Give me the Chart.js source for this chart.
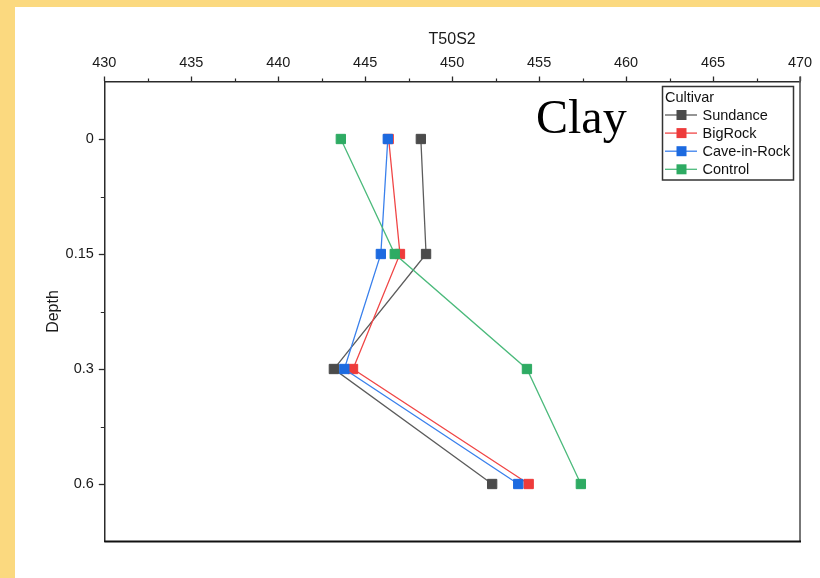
<!DOCTYPE html>
<html>
<head>
<meta charset="utf-8">
<title>T50S2 by depth – Clay</title>
<script src="https://cdn.jsdelivr.net/npm/chart.js@4.4.1/dist/chart.umd.min.js"></script>
<style>
  html, body { margin: 0; padding: 0; width: 820px; height: 578px; overflow: hidden; background: #fbd97f; }
  #panel { position: absolute; left: 15px; top: 7px; width: 805px; height: 571px; background: #ffffff; }
  #c { position: absolute; left: 0; top: 0; }
</style>
</head>
<body>
<div id="panel"></div>
<canvas id="c" width="820" height="578"></canvas>
<script>
// Depth categories (y axis, top to bottom)
const depthLabels = ['0', '0.15', '0.3', '0.6'];

// T50S2 per cultivar at each depth
const sundance   = [448.2, 448.5, 443.2, 452.3];
const bigRock    = [446.35, 447.0, 444.3, 454.4];
const caveInRock = [446.3, 445.9, 443.8, 453.8];
const control    = [443.6, 446.7, 454.3, 457.4];

// Value axis range and tick step
const xMin = 430;
const xMax = 470;
const xStep = 5;

const seriesNames = ['Sundance', 'BigRock', 'Cave-in-Rock', 'Control'];
const seriesData = [sundance, bigRock, caveInRock, control];
const markerColors = ['#4b4b4b', '#ee3b3b', '#1c6ae0', '#2eab63'];
const lineColors   = ['#5c5c5c', '#f04646', '#3a80ec', '#4cba7c'];

const FONT = "'Liberation Sans', Arial, sans-serif";
const AXIS = '#2b2b2b';

// Minor ticks, right/bottom frame, panel label and the boxed legend
const decorPlugin = {
  id: 'decor',
  afterDraw(chart) {
    const ctx = chart.ctx;
    const a = chart.chartArea;
    const xs = chart.scales.x;
    const ys = chart.scales.y;
    ctx.save();

    // minor ticks
    ctx.strokeStyle = AXIS;
    ctx.lineWidth = 1.2;
    ctx.beginPath();
    for (let v = xMin + xStep / 2; v < xMax; v += xStep) {
      const px = Math.round(xs.getPixelForValue(v)) + 0.5;
      ctx.moveTo(px, a.top);
      ctx.lineTo(px, a.top - 3);
    }
    for (let i = 0; i < depthLabels.length - 1; i++) {
      const py = Math.round(ys.getPixelForValue(i + 0.5)) + 0.5;
      ctx.moveTo(a.left, py);
      ctx.lineTo(a.left - 3.5, py);
    }
    ctx.stroke();

    // right and bottom frame lines
    ctx.lineWidth = 1.6;
    ctx.strokeStyle = '#555555';
    ctx.beginPath();
    ctx.moveTo(a.right, a.top - 5);
    ctx.lineTo(a.right, a.bottom);
    ctx.stroke();
    ctx.lineWidth = 2;
    ctx.strokeStyle = '#111111';
    ctx.beginPath();
    ctx.moveTo(a.left, a.bottom);
    ctx.lineTo(a.right + 1, a.bottom);
    ctx.stroke();

    // panel label
    ctx.fillStyle = '#000000';
    ctx.font = "48px 'Liberation Serif', 'Times New Roman', serif";
    ctx.textAlign = 'left';
    ctx.textBaseline = 'alphabetic';
    ctx.fillText('Clay', 536, 133);

    // legend box
    const bx = 662.5, by = 86.5, bw = 131, bh = 93.5;
    ctx.fillStyle = '#ffffff';
    ctx.fillRect(bx, by, bw, bh);
    ctx.strokeStyle = '#333333';
    ctx.lineWidth = 1.5;
    ctx.strokeRect(bx, by, bw, bh);

    ctx.fillStyle = '#111111';
    ctx.font = '14.5px ' + FONT;
    ctx.textBaseline = 'middle';
    ctx.fillText('Cultivar', 665, 97.5);

    chart.data.datasets.forEach((ds, i) => {
      const cy = 115 + i * 18.1;
      ctx.strokeStyle = ds.borderColor;
      ctx.lineWidth = 1.3;
      ctx.beginPath();
      ctx.moveTo(665, cy);
      ctx.lineTo(697, cy);
      ctx.stroke();
      ctx.fillStyle = ds.pointBackgroundColor;
      ctx.fillRect(676.5, cy - 5, 10, 10);
      ctx.fillStyle = '#111111';
      ctx.fillText(ds.label, 702.5, cy + 0.5);
    });

    ctx.restore();
  }
};

const datasets = seriesNames.map((name, i) => ({
  label: name,
  data: seriesData[i],
  borderColor: lineColors[i],
  borderWidth: 1.3,
  pointStyle: 'rect',
  pointRadius: 6.6,
  pointHoverRadius: 6.6,
  pointBackgroundColor: markerColors[i],
  pointBorderColor: markerColors[i],
  pointBorderWidth: 1,
  fill: false,
  tension: 0,
  order: seriesNames.length - i
}));

new Chart(document.getElementById('c'), {
  type: 'line',
  data: { labels: depthLabels, datasets },
  plugins: [decorPlugin],
  options: {
    responsive: false,
    animation: false,
    devicePixelRatio: 1,
    indexAxis: 'y',
    layout: { padding: { left: 0, top: 0, right: 20, bottom: 36.5 } },
    plugins: {
      legend: { display: false },
      tooltip: { enabled: false },
      title: { display: false }
    },
    scales: {
      x: {
        type: 'linear',
        position: 'top',
        min: xMin,
        max: xMax,
        afterFit(scale) { scale.height = 81.5; },
        ticks: {
          stepSize: xStep,
          padding: 5,
          color: '#1a1a1a',
          font: { family: FONT, size: 14.5 },
          maxRotation: 0
        },
        grid: {
          display: true,
          drawOnChartArea: false,
          drawTicks: true,
          tickLength: 5,
          tickWidth: 1.3,
          tickColor: AXIS
        },
        border: { display: true, color: AXIS, width: 1.5 },
        title: {
          display: true,
          text: 'T50S2',
          color: '#1a1a1a',
          font: { family: FONT, size: 16 },
          padding: { top: 29.5, bottom: 0 }
        }
      },
      y: {
        type: 'category',
        offset: true,
        afterFit(scale) { scale.width = 104.3; },
        ticks: {
          padding: 5,
          color: '#1a1a1a',
          font: { family: FONT, size: 14.5 }
        },
        grid: {
          display: true,
          drawOnChartArea: false,
          drawTicks: true,
          tickLength: 5.5,
          tickWidth: 1.3,
          tickColor: AXIS,
          offset: false
        },
        border: { display: true, color: AXIS, width: 1.5 },
        title: {
          display: true,
          text: 'Depth',
          color: '#1a1a1a',
          font: { family: FONT, size: 16 },
          padding: { top: 43.5, bottom: 0 }
        }
      }
    }
  }
});
</script>
</body>
</html>
